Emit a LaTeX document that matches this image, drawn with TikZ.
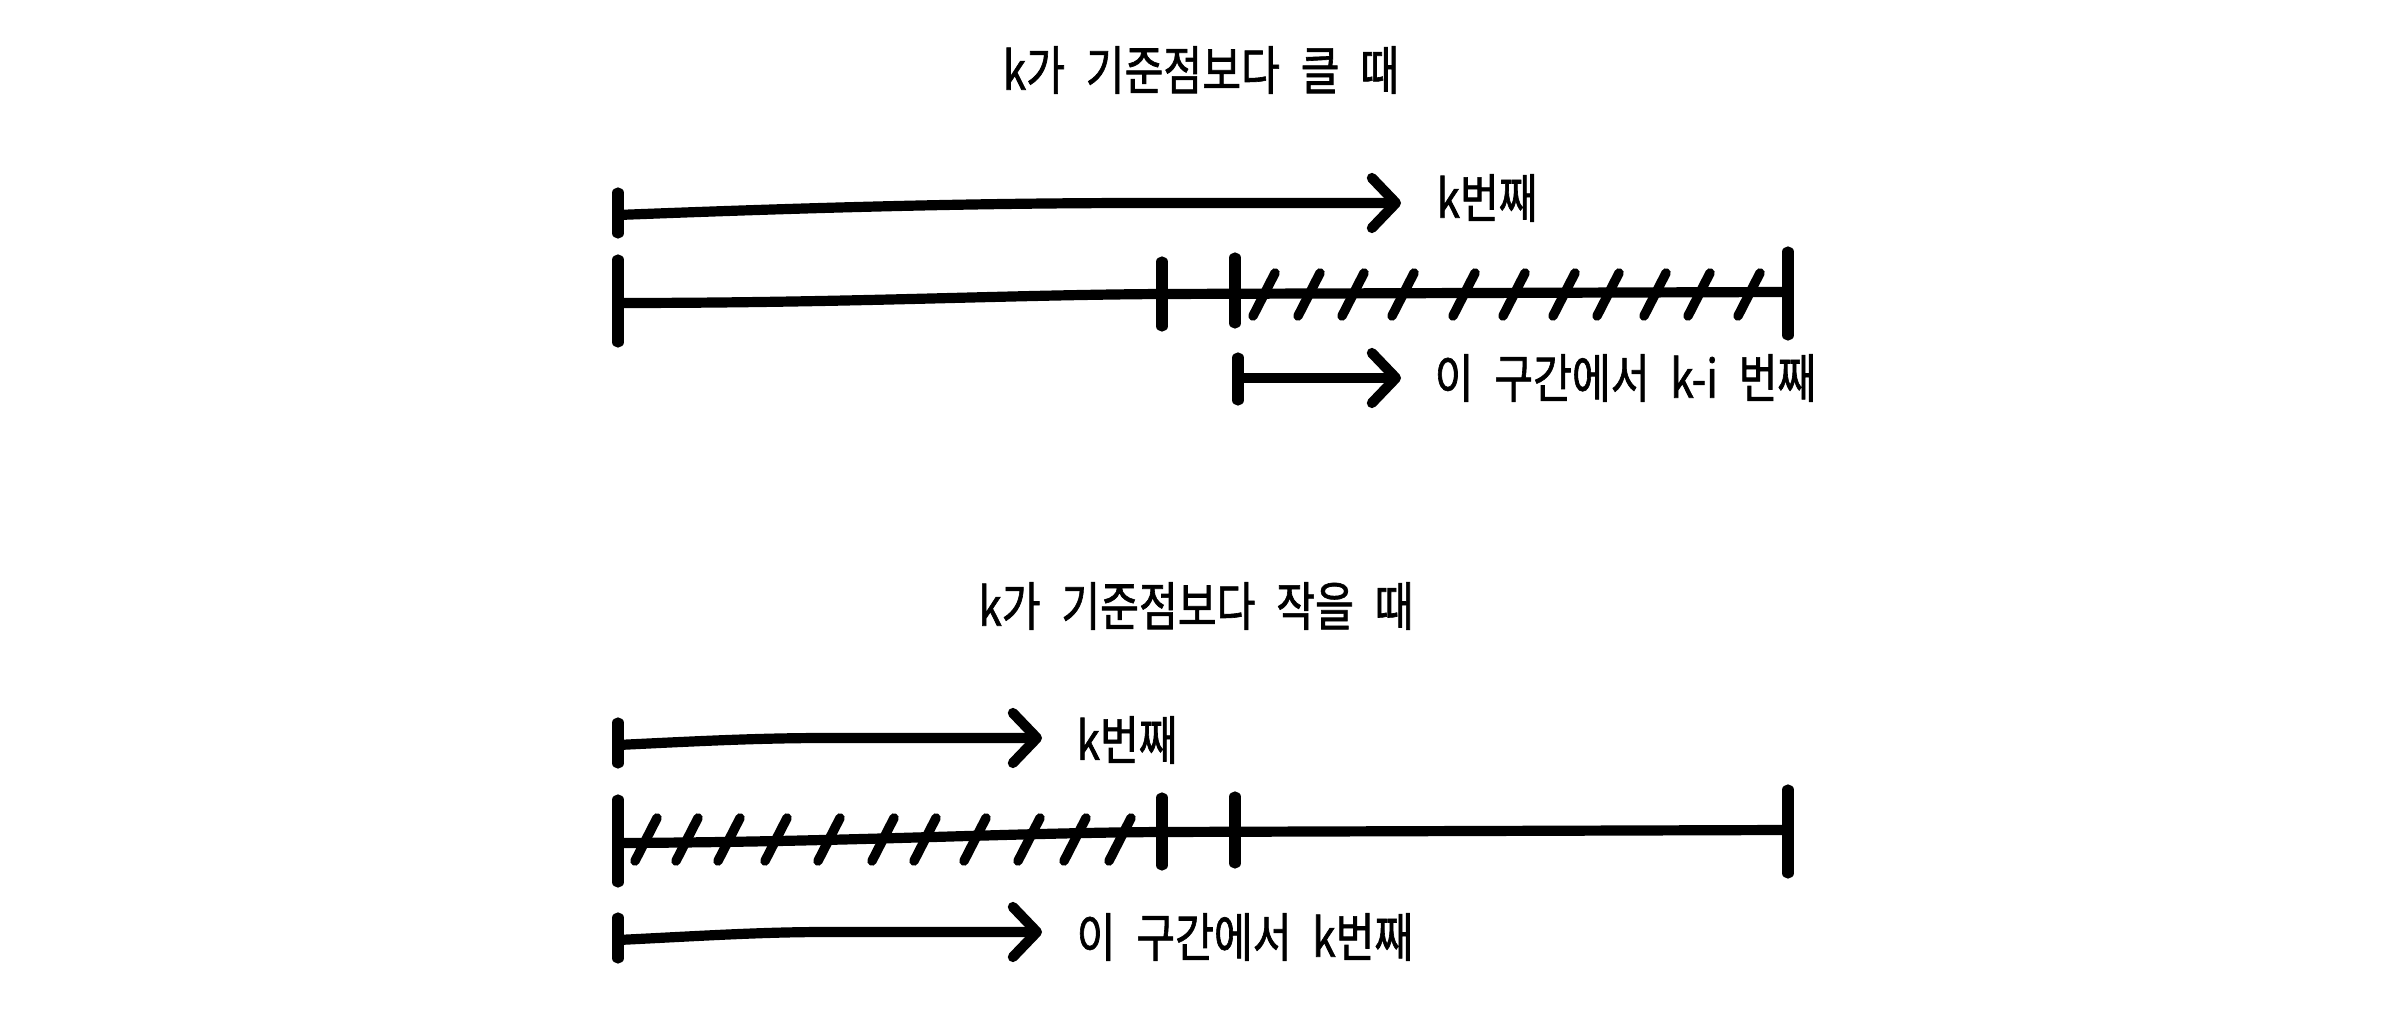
\documentclass[tikz,border=0pt]{standalone}
\usepackage{fontspec}
\newfontfamily\kor[FakeStretch=0.8,WordSpace=2.2,FakeBold=1.2]{Noto Sans CJK KR}
\usetikzlibrary{arrows.meta}
\begin{document}
\begin{tikzpicture}[x=0.01cm,y=-0.01cm,
  pen/.style={line width=2.9pt,line cap=round,line join=round},
  tickmark/.style={line width=3.2pt,line cap=round},
  hatch/.style={line width=2.7pt,line cap=round},
  arr/.style={pen,-{Straight Barb[length=2.4mm,width=5mm,line cap=round,line join=round]}},
  lbl/.style={font=\kor\fontsize{15pt}{17pt}\selectfont,inner sep=0pt},
  ]
\useasboundingbox (0,0) rectangle (2400,1016);

% titles
\node[lbl] (t1) at (1201,70) {k가 기준점보다 클 때};
\node[lbl] (t2) at (1196,606) {k가 기준점보다 작을 때};

% ---------- case 1 ----------
\coordinate (a1s) at (618,215);
\coordinate (a1e) at (1401,203);
\draw[tickmark] (618,193) -- (618,233);
\draw[arr] (a1s) .. controls (850,206) and (1000,203) .. (1150,203) -- (a1e);
\node[lbl,anchor=west] (l1) at (1436,198) {k번째};

\coordinate (L1a) at (618,303);
\coordinate (L1b) at (1162,294);
\coordinate (L1c) at (1788,292);
\draw[pen] (L1a) .. controls (850,303) and (1000,295) .. (L1b) -- (L1c);
\draw[tickmark] (618,260) -- (618,342);
\draw[tickmark] (1162,262) -- (1162,326);
\draw[tickmark] (1235,258) -- (1235,323);
\draw[tickmark] (1788,252) -- (1788,335);
\foreach \x in {1253,1298,1342,1392,1453,1503,1553,1597,1644,1688,1738}
  \draw[hatch] (\x,316) -- ++(22,-43);

\coordinate (b1s) at (1238,378);
\coordinate (b1e) at (1401,378);
\draw[tickmark] (1238,358) -- (1238,400);
\draw[arr] (b1s) -- (b1e);
\node[lbl,anchor=west] (l2) at (1434,378) {이 구간에서 k-i 번째};

% ---------- case 2 ----------
\coordinate (a2s) at (618,745);
\coordinate (a2e) at (1042,738);
\draw[tickmark] (618,723) -- (618,763);
\draw[arr] (a2s) .. controls (700,741) and (760,738) .. (827,738) -- (a2e);
\node[lbl,anchor=west] (l3) at (1076,740) {k번째};

\coordinate (L2a) at (618,843);
\coordinate (L2b) at (1162,832);
\coordinate (L2c) at (1788,830);
\draw[pen] (L2a) .. controls (850,842) and (1000,833) .. (L2b) -- (L2c);
\draw[tickmark] (618,800) -- (618,882);
\draw[tickmark] (1162,798) -- (1162,865);
\draw[tickmark] (1235,797) -- (1235,863);
\draw[tickmark] (1788,790) -- (1788,873);
\foreach \x in {635,676,718,765,818,872,914,964,1018,1064,1109}
  \draw[hatch] (\x,861) -- ++(22,-43);

\coordinate (b2s) at (618,940);
\coordinate (b2e) at (1042,932);
\draw[tickmark] (618,918) -- (618,958);
\draw[arr] (b2s) .. controls (700,936) and (760,932) .. (827,932) -- (b2e);
\node[lbl,anchor=west] (l4) at (1076,937) {이 구간에서 k번째};
\end{tikzpicture}
\end{document}
